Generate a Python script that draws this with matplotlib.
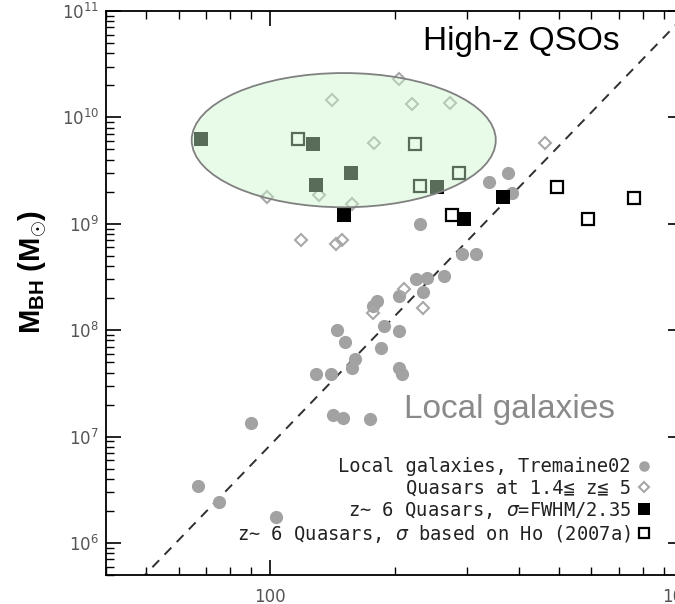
import numpy as np
import matplotlib
matplotlib.use("Agg")
import matplotlib.pyplot as plt
from matplotlib.patches import Ellipse
from matplotlib.ticker import LogLocator, NullFormatter, FuncFormatter

plt.rcParams['font.family'] = ['DejaVu Sans']
plt.rcParams['mathtext.fontset'] = 'custom'
plt.rcParams['mathtext.bf'] = 'Liberation Sans:bold'
plt.rcParams['mathtext.rm'] = 'Liberation Sans'

# velocity dispersion (km/s) and black hole mass (Msun)
local_sigma = [67, 75, 103, 90, 129, 140, 142, 150, 174, 145, 152, 160, 158, 186, 189, 205,
               205, 209, 177, 181, 205, 234, 225, 240, 264, 230, 291, 315, 338, 376, 386]
local_mbh = [3.4e6, 2.45e6, 1.75e6, 1.35e7, 3.85e7, 3.9e7, 1.6e7, 1.5e7, 1.45e7, 1.0e8, 7.7e7,
             5.4e7, 4.4e7, 6.8e7, 1.1e8, 9.8e7, 4.4e7, 3.85e7, 1.7e8, 1.9e8, 2.1e8, 2.3e8,
             3.0e8, 3.1e8, 3.2e8, 1.0e9, 5.2e8, 5.2e8, 2.45e9, 3.0e9, 1.95e9]

qso_sigma = [141, 205, 221, 272, 178, 98, 131, 158, 119, 144, 149, 463, 211, 234, 177]
qso_mbh = [1.45e10, 2.3e10, 1.33e10, 1.36e10, 5.8e9, 1.8e9, 1.85e9, 1.55e9, 7.0e8, 6.5e8,
           7.0e8, 5.7e9, 2.45e8, 1.6e8, 1.45e8]

fwhm_sigma = [68, 127, 129, 157, 254, 151, 294, 366]
fwhm_mbh = [6.2e9, 5.6e9, 2.3e9, 3.0e9, 2.2e9, 1.2e9, 1.1e9, 1.8e9]

ho_sigma = [117, 224, 231, 286, 275, 494, 588, 760]
ho_mbh = [6.2e9, 5.6e9, 2.25e9, 3.0e9, 1.2e9, 2.2e9, 1.1e9, 1.75e9]

# Tremaine et al. 2002 fit: log M = a + b log(sigma/200)
trem_a = 8.13
trem_b = 4.02

fig = plt.figure(figsize=(6.75, 6.04), dpi=100)
ax = fig.add_axes([106 / 675, 1 - 575 / 604, 577 / 675, 564 / 604])
ax.set_xscale('log')
ax.set_yscale('log')
ax.set_xlim(40, 1000)
ax.set_ylim(5e5, 1e11)

s = np.logspace(np.log10(40), 3, 50)
ax.plot(s, 10 ** (trem_a + trem_b * np.log10(s / 200.0)), color='#303030', lw=1.4,
        dashes=(5, 4), zorder=2)

loc, = ax.plot(local_sigma, local_mbh, 'o', color='#a2a2a2', ms=9.5, mew=0, zorder=3)
qso, = ax.plot(qso_sigma, qso_mbh, 'D', mfc='none', mec='#a8a8a8', ms=6.2, mew=1.5, zorder=3)
ho, = ax.plot(ho_sigma, ho_mbh, 's', mfc='white', mec='black', ms=9, mew=1.6, zorder=4)
fw, = ax.plot(fwhm_sigma, fwhm_mbh, 's', color='black', ms=10, mew=0, zorder=5)

# shaded region around the high-z quasars
ell = Ellipse((0.412, 0.771), 0.527, 0.238, transform=ax.transAxes,
              facecolor=(0.80, 0.97, 0.80, 0.44), edgecolor='#808080', lw=1.3, zorder=6)
ax.add_patch(ell)

ax.text(0.55, 0.946, 'High-z QSOs', transform=ax.transAxes, fontsize=24,
        family='Liberation Sans', color='black', ha='left', va='center', zorder=7)
ax.text(0.516, 0.293, 'Local galaxies', transform=ax.transAxes, fontsize=24,
        family='Liberation Sans', color='#8a8a8a', ha='left', va='center', zorder=7)

labels = ['Local galaxies, Tremaine02',
          'Quasars at 1.4≦ z≦ 5',
          r'z~ 6 Quasars, $\sigma$=FWHM/2.35',
          r'z~ 6 Quasars, $\sigma$ based on Ho (2007a)']
leg = ax.legend([loc, qso, fw, ho], labels, loc='lower right', markerfirst=False,
                frameon=False, prop={'family': 'DejaVu Sans Mono', 'size': 13.5},
                handlelength=0.6, handletextpad=0.4,
                labelspacing=0.12, borderaxespad=0, bbox_to_anchor=(0.955, 0.04),
                markerscale=0.8)
for t in leg.get_texts():
    t.set_color('#222222')

ax.xaxis.set_major_formatter(FuncFormatter(lambda v, p: '%d' % round(v)))
ax.xaxis.set_minor_locator(LogLocator(base=10, subs=np.arange(2, 10)))
ax.yaxis.set_minor_locator(LogLocator(base=10, subs=np.arange(2, 10), numticks=20))
ax.yaxis.set_major_locator(LogLocator(base=10, numticks=20))
ax.xaxis.set_minor_formatter(NullFormatter())
ax.tick_params(which='both', direction='in', top=True, right=True, colors='black',
               labelcolor='#555555', labelsize=12)
ax.tick_params(which='major', length=11, width=1.2)
ax.tick_params(which='minor', length=6, width=1.0)
ax.tick_params(axis='x', pad=9)
ax.tick_params(axis='y', pad=5)
for sp in ax.spines.values():
    sp.set_linewidth(1.3)

fig.text(33 / 675, 1 - 272 / 604, r'M$_\mathbf{BH}$ (M$_\mathbf{\odot}$)', rotation=90,
         fontsize=21, fontweight='bold', family='Liberation Sans', ha='center', va='center')

fig.savefig('out.png', dpi=100)
